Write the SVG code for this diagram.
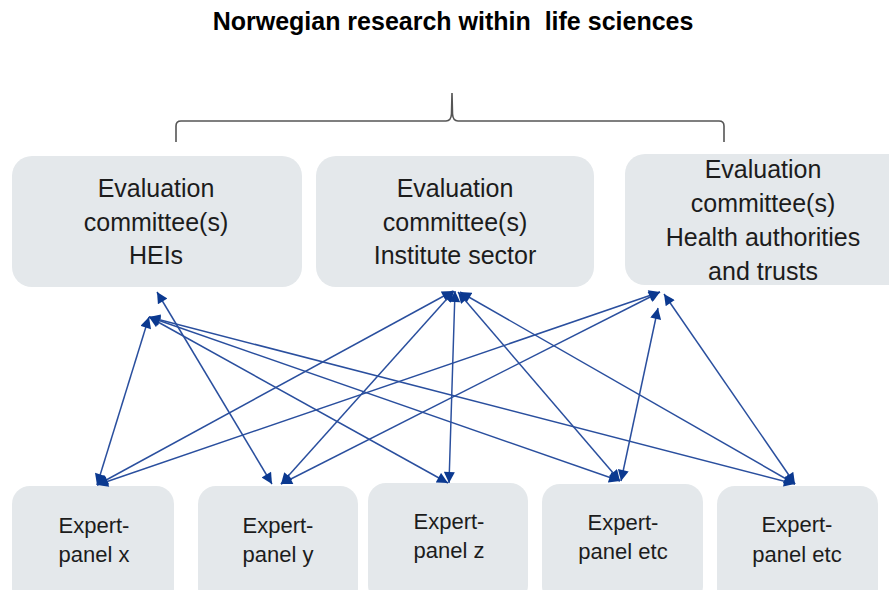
<svg xmlns="http://www.w3.org/2000/svg" width="889" height="590" viewBox="0 0 889 590">
<style>
.box{fill:#e4e8eb;}
.t{font-family:"Liberation Sans",Arial,sans-serif;fill:#1c1c1c;text-anchor:middle;}
.top{font-size:25px;}
.bot{font-size:22px;}
.title{font-family:"Liberation Sans",Arial,sans-serif;font-weight:bold;font-size:25px;fill:#000;text-anchor:middle;white-space:pre;}
.c{stroke:#2a4f9e;stroke-width:1.5;fill:none;marker-start:url(#ah);marker-end:url(#ah);}
.brace{stroke:#555;stroke-width:1.6;fill:none;}
</style>
<defs>
<marker id="ah" viewBox="0 0 10 10" refX="10" refY="5" markerWidth="12" markerHeight="11" markerUnits="userSpaceOnUse" orient="auto-start-reverse">
<path d="M0,0 L10,5 L0,10 z" fill="#0b3990"/>
</marker>
</defs>
<rect width="889" height="590" fill="#fff"/>
<text class="title" x="453" y="30" xml:space="preserve">Norwegian research within  life sciences</text>
<path class="brace" d="M176,142 L176,126 Q176,121 181,121 L446,121 Q451,121 451.5,114 L452,93 L452.5,114 Q453,121 458,121 L719,121 Q724,121 724,126 L724,142"/>
<g id="eval-heis">
<rect class="box" x="12" y="156" width="290" height="131" rx="20"/>
<text class="t top" x="156" y="197">Evaluation</text>
<text class="t top" x="156" y="231">committee(s)</text>
<text class="t top" x="156" y="264">HEIs</text>
</g>
<g id="eval-institute">
<rect class="box" x="316" y="156" width="278" height="131" rx="20"/>
<text class="t top" x="455" y="197">Evaluation</text>
<text class="t top" x="455" y="231">committee(s)</text>
<text class="t top" x="455" y="264">Institute sector</text>
</g>
<g id="eval-health">
<rect class="box" x="625" y="154" width="290" height="131" rx="20"/>
<text class="t top" x="763" y="178">Evaluation</text>
<text class="t top" x="763" y="212">committee(s)</text>
<text class="t top" x="763" y="246">Health authorities</text>
<text class="t top" x="763" y="280">and trusts</text>
</g>
<g id="panel-x">
<rect class="box" x="12" y="486" width="162" height="120" rx="18"/>
<text class="t bot" x="94" y="533">Expert-</text>
<text class="t bot" x="94" y="562">panel x</text>
</g>
<g id="panel-y">
<rect class="box" x="198" y="486" width="160" height="120" rx="18"/>
<text class="t bot" x="278" y="533">Expert-</text>
<text class="t bot" x="278" y="562">panel y</text>
</g>
<g id="panel-z">
<rect class="box" x="368" y="483" width="160" height="120" rx="18"/>
<text class="t bot" x="449" y="529">Expert-</text>
<text class="t bot" x="449" y="558">panel z</text>
</g>
<g id="panel-etc1">
<rect class="box" x="542" y="484" width="161" height="120" rx="18"/>
<text class="t bot" x="623" y="530">Expert-</text>
<text class="t bot" x="623" y="559">panel etc</text>
</g>
<g id="panel-etc2">
<rect class="box" x="717" y="486" width="161" height="120" rx="18"/>
<text class="t bot" x="797" y="532">Expert-</text>
<text class="t bot" x="797" y="562">panel etc</text>
</g>
<g id="connectors">
<line class="c" x1="97" y1="485" x2="149" y2="317"/>
<line class="c" x1="157" y1="292" x2="272" y2="484"/>
<line class="c" x1="149" y1="317" x2="448" y2="483"/>
<line class="c" x1="149" y1="317" x2="620" y2="481"/>
<line class="c" x1="149" y1="317" x2="795" y2="484"/>
<line class="c" x1="453" y1="291" x2="97" y2="485"/>
<line class="c" x1="454" y1="291" x2="281" y2="484"/>
<line class="c" x1="455" y1="291" x2="449" y2="483"/>
<line class="c" x1="458" y1="292" x2="620" y2="481"/>
<line class="c" x1="460" y1="292" x2="795" y2="484"/>
<line class="c" x1="660" y1="292" x2="97" y2="485"/>
<line class="c" x1="660" y1="292" x2="281" y2="484"/>
<line class="c" x1="658" y1="308" x2="621" y2="481"/>
<line class="c" x1="664" y1="294" x2="795" y2="484"/>
</g>
</svg>
